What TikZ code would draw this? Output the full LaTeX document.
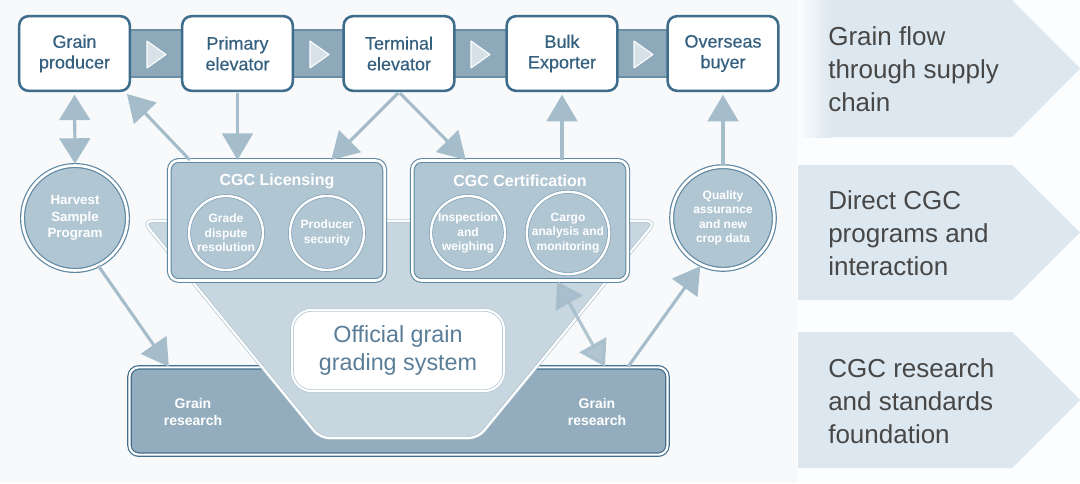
\documentclass[tikz,border=0pt]{standalone}
\usepackage{fontspec}
\setmainfont{Liberation Sans}
\newfontfamily\medsans{Liberation Sans}[FakeBold=0.4]
\usetikzlibrary{arrows.meta}
\definecolor{bg}{HTML}{F7F9FB}
\definecolor{panelbg}{HTML}{FCFDFE}
\definecolor{boxline}{HTML}{3E6C8B}
\definecolor{boxtext}{HTML}{35607F}
\definecolor{band}{HTML}{8EA9BA}
\definecolor{bandline}{HTML}{6A8FA5}
\definecolor{tri}{HTML}{D6E1E8}
\definecolor{arrowc}{HTML}{A5BCCA}
\definecolor{circfill}{HTML}{B1C6D3}
\definecolor{circline}{HTML}{5F88A2}
\definecolor{inline}{HTML}{7D9EB3}
\definecolor{funnel}{HTML}{C7D6DF}
\definecolor{funline}{HTML}{AEC3CF}
\definecolor{research}{HTML}{93ADBE}
\definecolor{resline}{HTML}{426F8D}
\definecolor{offline}{HTML}{B9CBD7}
\definecolor{offtext}{HTML}{5A7E98}
\definecolor{panel}{HTML}{DCE7EF}
\definecolor{paneltext}{HTML}{474747}
\begin{document}
\begin{tikzpicture}[x=0.75pt,y=-0.75pt,
  topbox/.style={rectangle, rounded corners=7pt, fill=white, draw=boxline, line width=1.9pt,
    minimum width=83pt, minimum height=56pt, inner sep=0pt, align=center, text=boxtext,
    font=\medsans\fontsize{13.5}{15.5}\selectfont},
  grpbox/.style={rectangle, rounded corners=7pt, fill=circfill, draw=circline, line width=0.8pt,
    double=white, double distance=2pt, minimum width=161.5pt, minimum height=90pt, inner sep=0pt},
  grptitle/.style={text=white, inner sep=0pt, font=\bfseries\fontsize{12}{14}\selectfont},
  bigcirc/.style={circle, fill=circfill, draw=circline, line width=0.9pt, double=white,
    double distance=2pt, inner sep=0pt, align=center, text=white,
    font=\bfseries\fontsize{10}{12.4}\selectfont},
  incirc/.style={circle, fill=circfill, draw=inline, line width=0.5pt, double=white,
    double distance=1.8pt, minimum size=55.5pt, inner sep=0pt, align=center, text=white,
    font=\bfseries\fontsize{9}{10.9}\selectfont},
  resbox/.style={rectangle, rounded corners=7pt, fill=research, draw=resline, line width=0.9pt,
    double=white, double distance=1.6pt, minimum width=403.5pt, minimum height=65.5pt, inner sep=0pt},
  restxt/.style={text=white, align=center, inner sep=0pt, font=\bfseries\fontsize{10.5}{12.5}\selectfont},
  offbox/.style={rectangle, rounded corners=15pt, fill=white, draw=offline, line width=0.6pt,
    double=white, double distance=1.5pt, minimum width=159pt, minimum height=61pt, inner sep=0pt,
    align=center, text=offtext, font=\fontsize{17.5}{21}\selectfont},
  paneltxt/.style={anchor=west, align=left, inner sep=0pt, text=paneltext,
    font=\fontsize{19.5}{24.75}\selectfont},
  bandst/.style={fill=band, draw=bandline, line width=0.8pt},
  trist/.style={fill=tri, draw=white, line width=0.8pt, line join=round},
  flow/.style={draw=arrowc, line width=2.3pt, -{Triangle[length=20pt,width=23pt]}},
  dflow/.style={draw=arrowc, line width=2.3pt, {Triangle[length=19pt,width=23pt]}-{Triangle[length=19pt,width=23pt]}}
]
\useasboundingbox (0,0) rectangle (1080,483);
\fill[bg] (0,0) rectangle (1080,483);
\fill[panelbg] (797,0) rectangle (1080,483);

% right-hand legend arrows
\fill[panel] (798,0) -- (1012,0) -- (1080,68.5) -- (1012,137) -- (798,137) -- cycle;
\shade[left color=panelbg, right color=panel] (798,0) rectangle (832,137);
\fill[panel] (798,165) -- (1012,165) -- (1080,232.5) -- (1012,300) -- (798,300) -- cycle;
\fill[panel] (798,332) -- (1012,332) -- (1080,400) -- (1012,468) -- (798,468) -- cycle;
\node[paneltxt] (p1) at (828,69.5) {Grain flow\\through supply\\chain};
\node[paneltxt] (p2) at (828,233) {Direct CGC\\programs and\\interaction};
\node[paneltxt] (p3) at (828,401) {CGC research\\and standards\\foundation};

% bands between top boxes
\filldraw[bandst] (128,30) rectangle (183,77);
\filldraw[bandst] (292,30) rectangle (346,77);
\filldraw[bandst] (452,30) rectangle (508,77);
\filldraw[bandst] (617,30) rectangle (669,77);
\filldraw[trist] (147,41) -- (166,54.5) -- (147,68) -- cycle;
\filldraw[trist] (310,41) -- (329,54.5) -- (310,68) -- cycle;
\filldraw[trist] (471,41) -- (490,54.5) -- (471,68) -- cycle;
\filldraw[trist] (634,41) -- (653,54.5) -- (634,68) -- cycle;

% top boxes
\node[topbox] (GP) at (74.5,53.5) {Grain\\producer};
\node[topbox] (PE) at (237.5,53.5) {Primary\\elevator};
\node[topbox] (TE) at (399,53.5) {Terminal\\elevator};
\node[topbox] (BE) at (562,53.5) {Bulk\\Exporter};
\node[topbox] (OB) at (723,53.5) {Overseas\\buyer};

% research foundation and funnel
\node[resbox] (RES) at (398.5,411) {};
\node[restxt] (RL) at (193,412) {Grain\\research};
\node[restxt] (RR) at (597,412) {Grain\\research};
\filldraw[fill=funnel, draw=funline, line width=0.5pt, double=white, double distance=1.6pt,
  rounded corners=7pt] (143,221) -- (656,221) -- (478,438) -- (320,438) -- cycle;
\node[offbox] (OGS) at (398,350.5) {Official grain\\grading system};

% CGC program groups
\node[grpbox] (LIC) at (277,220.5) {};
\node[grptitle] (LICt) at (277,181) {CGC Licensing};
\node[incirc] (GDR) at (226,233) {Grade\\dispute\\resolution};
\node[incirc] (PS) at (327,233) {Producer\\security};
\node[grpbox] (CERT) at (520,220.5) {};
\node[grptitle] (CERTt) at (520,181) {CGC Certification};
\node[incirc] (IW) at (468,233) {Inspection\\and\\weighing};
\node[incirc] (CAM) at (568,233) {Cargo\\analysis and\\monitoring};

% side circles
\node[bigcirc, minimum size=78.7pt] (HSP) at (75,218) {Harvest\\Sample\\Program};
\node[bigcirc, minimum size=77pt, font=\bfseries\fontsize{9}{10.9}\selectfont] (QA) at (723,218)
  {Quality\\assurance\\and new\\crop data};

% connectors
\draw[dflow, shorten >=2pt, shorten <=1pt] (HSP.north) -- (GP.south);
\draw[flow, shorten >=2pt] ([xshift=15.75pt]LIC.north west) -- ([xshift=-4.5pt]GP.south east);
\draw[flow, shorten <=1pt] (PE.south) -- (PE.south |- LIC.north);
\draw[flow, shorten <=1pt] (TE.south) -- ([xshift=-40.5pt]LIC.north east);
\draw[flow, shorten <=1pt] (TE.south) -- ([xshift=40.5pt]CERT.north west);
\draw[flow, shorten >=2pt] (BE.south |- CERT.north) -- (BE.south);
\draw[flow, shorten >=2pt] (QA.north) -- (OB.south);
\draw[flow] (HSP.-64) -- ([xshift=30pt]RES.north west);
\draw[dflow, opacity=0.85] ([xshift=27.75pt]CERT.south) -- ([xshift=-47.25pt]RES.north east);
\draw[flow, shorten >=1pt] ([xshift=-30pt]RES.north east) -- (QA.-115);
\end{tikzpicture}
\end{document}
